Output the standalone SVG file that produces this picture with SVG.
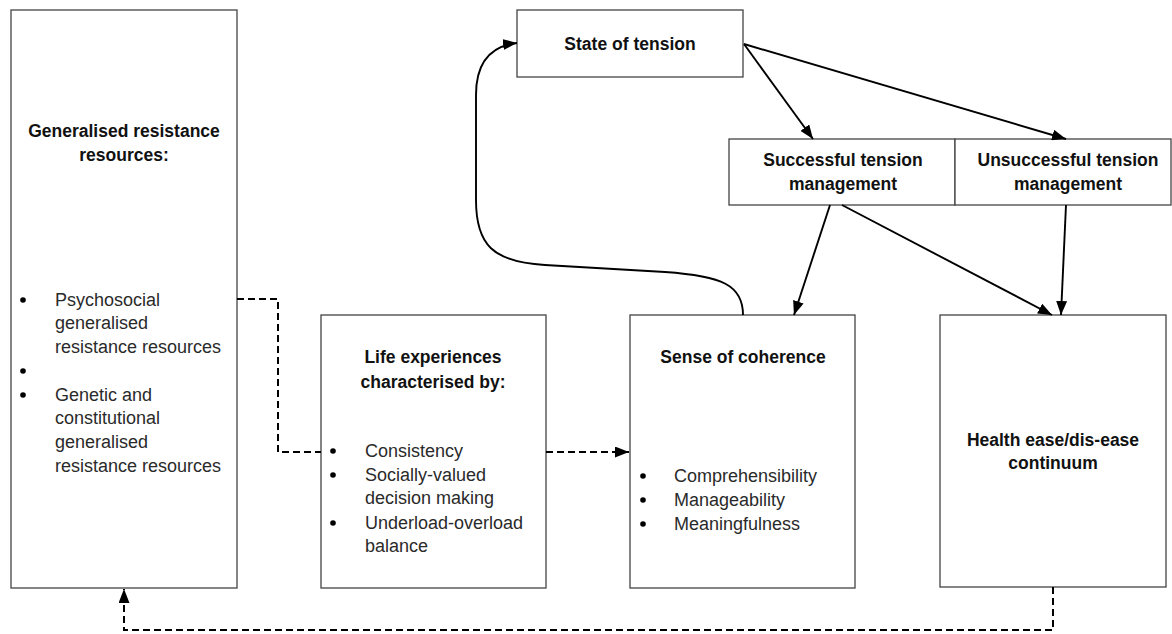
<svg xmlns="http://www.w3.org/2000/svg" width="1172" height="634" viewBox="0 0 1172 634">
  <style>
    .box { fill: #ffffff; stroke: #444444; stroke-width: 1.3; }
    .title { font-family: "Liberation Sans", Arial, sans-serif; font-weight: bold; font-size: 17.5px; fill: #111111; text-anchor: middle; }
    .item { font-family: "Liberation Sans", Arial, sans-serif; font-size: 18px; fill: #2a2a2a; }
    .dot { fill: #000000; }
    .solid { fill: none; stroke: #000000; stroke-width: 1.9; }
    .dashed { fill: none; stroke: #000000; stroke-width: 2; stroke-dasharray: 7 4; }
  </style>
  <defs>
    <marker id="arrow" viewBox="0 0 14 11" refX="14" refY="5.5" markerWidth="14" markerHeight="11" markerUnits="userSpaceOnUse" orient="auto">
      <path d="M0,0 L14,5.5 L0,11 z" fill="#000000"/>
    </marker>
  </defs>

  <rect width="1172" height="634" fill="#ffffff"/>

  <!-- Generalised resistance resources -->
  <g id="grr">
    <rect class="box" x="11" y="10" width="226" height="578"/>
    <text class="title" x="124" y="137">Generalised resistance</text>
    <text class="title" x="124" y="161">resources:</text>
    <circle class="dot" cx="23" cy="300" r="2.8"/>
    <text class="item" x="55" y="306">Psychosocial</text>
    <text class="item" x="55" y="329">generalised</text>
    <text class="item" x="55" y="353">resistance resources</text>
    <circle class="dot" cx="23" cy="371" r="2.8"/>
    <circle class="dot" cx="23" cy="395" r="2.8"/>
    <text class="item" x="55" y="401">Genetic and</text>
    <text class="item" x="55" y="424">constitutional</text>
    <text class="item" x="55" y="448">generalised</text>
    <text class="item" x="55" y="472">resistance resources</text>
  </g>

  <!-- Life experiences -->
  <g id="life">
    <rect class="box" x="321" y="315" width="225" height="273"/>
    <text class="title" x="433" y="363">Life experiences</text>
    <text class="title" x="433" y="388">characterised by:</text>
    <circle class="dot" cx="333" cy="451" r="2.8"/>
    <text class="item" x="365" y="457">Consistency</text>
    <circle class="dot" cx="333" cy="475" r="2.8"/>
    <text class="item" x="365" y="481">Socially-valued</text>
    <text class="item" x="365" y="504">decision making</text>
    <circle class="dot" cx="333" cy="523" r="2.8"/>
    <text class="item" x="365" y="529">Underload-overload</text>
    <text class="item" x="365" y="552">balance</text>
  </g>

  <!-- Sense of coherence -->
  <g id="soc">
    <rect class="box" x="630" y="315" width="225" height="273"/>
    <text class="title" x="743" y="363">Sense of coherence</text>
    <circle class="dot" cx="643" cy="476" r="2.8"/>
    <text class="item" x="674" y="482">Comprehensibility</text>
    <circle class="dot" cx="643" cy="500" r="2.8"/>
    <text class="item" x="674" y="506">Manageability</text>
    <circle class="dot" cx="643" cy="524" r="2.8"/>
    <text class="item" x="674" y="530">Meaningfulness</text>
  </g>

  <!-- Health ease/dis-ease continuum -->
  <g id="health">
    <rect class="box" x="940" y="315" width="226" height="272"/>
    <text class="title" x="1053" y="446">Health ease/dis-ease</text>
    <text class="title" x="1053" y="469">continuum</text>
  </g>

  <!-- State of tension -->
  <g id="tension">
    <rect class="box" x="517" y="10" width="226" height="67"/>
    <text class="title" x="630" y="50">State of tension</text>
  </g>

  <!-- Successful tension management -->
  <g id="success">
    <rect class="box" x="729" y="139" width="226" height="66"/>
    <text class="title" x="843" y="166">Successful tension</text>
    <text class="title" x="843" y="190">management</text>
  </g>

  <!-- Unsuccessful tension management -->
  <g id="fail">
    <rect class="box" x="955" y="139" width="216" height="66"/>
    <text class="title" x="1068" y="166">Unsuccessful tension</text>
    <text class="title" x="1068" y="190">management</text>
  </g>

  <!-- Connectors -->
  <g id="connectors">
    <path class="dashed" d="M237,299 H278 V452 H321"/>
    <path class="dashed" d="M546,452 H629" marker-end="url(#arrow)"/>
    <path class="dashed" d="M1053,587 V630 H124 V589" marker-end="url(#arrow)"/>
    <path class="solid" d="M743,315 C743,285 722,276 665,272 L545,265 C493,262 476,245 476,200 L476,95 C476,63 490,46 517,43" marker-end="url(#arrow)"/>
    <path class="solid" d="M744,44 L813,139" marker-end="url(#arrow)"/>
    <path class="solid" d="M744,44 L1066,139" marker-end="url(#arrow)"/>
    <path class="solid" d="M830,205 L794,315" marker-end="url(#arrow)"/>
    <path class="solid" d="M842,205 L1052,315" marker-end="url(#arrow)"/>
    <path class="solid" d="M1066,205 L1061,315" marker-end="url(#arrow)"/>
  </g>
</svg>
